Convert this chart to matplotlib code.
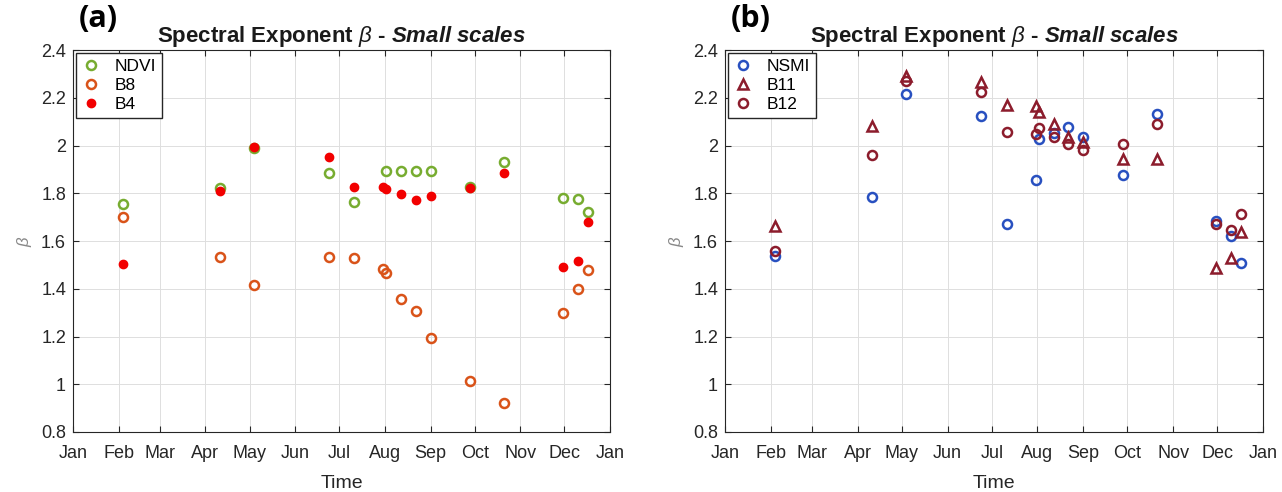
import numpy as np
import pandas as pd
import matplotlib.pyplot as plt
import matplotlib.dates as mdates
from matplotlib.ticker import FormatStrFormatter

plt.rcParams['font.family'] = ['Liberation Sans', 'DejaVu Sans']
plt.rcParams['mathtext.fontset'] = 'custom'
plt.rcParams['mathtext.rm'] = 'Liberation Sans'
plt.rcParams['mathtext.it'] = 'Liberation Sans:italic'
plt.rcParams['mathtext.bf'] = 'Liberation Sans:bold'
plt.rcParams['mathtext.bfit'] = 'Liberation Sans:bold:italic'

# acquisition dates (same for both panels)
dates = pd.to_datetime(['2019-02-04', '2019-04-11', '2019-05-04', '2019-06-24', '2019-07-11',
                        '2019-07-31', '2019-08-02', '2019-08-12', '2019-08-22', '2019-09-01',
                        '2019-09-28', '2019-10-21', '2019-11-30', '2019-12-10', '2019-12-17'])

# panel (a)
ndvi = [1.755, 1.82, 1.99, 1.885, 1.765, np.nan, 1.895, 1.893, 1.895, 1.895,
        1.825, 1.93, 1.78, 1.778, 1.722]
b8 = [1.70, 1.535, 1.415, 1.535, 1.528, 1.483, 1.467, 1.358, 1.305, 1.195,
      1.012, 0.923, 1.298, 1.40, 1.477]
b4 = [1.505, 1.81, 1.993, 1.952, 1.825, 1.828, 1.818, 1.797, 1.772, 1.789,
      1.823, 1.886, 1.493, 1.515, 1.678]

# panel (b)
nsmi = [1.538, 1.783, 2.215, 2.125, 1.67, 1.855, 2.027, 2.052, 2.076, 2.034,
        1.876, 2.131, 1.685, 1.623, 1.506]
b11 = [1.662, 2.08, 2.29, 2.268, 2.168, 2.166, 2.141, 2.092, 2.034, 2.014,
       1.945, 1.945, 1.487, 1.528, 1.637]
b12 = [1.56, 1.96, 2.27, 2.225, 2.058, 2.048, 2.072, 2.035, 2.007, 1.983,
       2.007, 2.09, 1.672, 1.648, 1.711]

title = r'Spectral Exponent $\beta$ - $\mathbfit{Small\ scales}$'
txt = '#262626'

fig = plt.figure(figsize=(12.82, 4.92), dpi=100)
ax1 = fig.add_axes([73 / 1282, 60 / 492, 537 / 1282, 382 / 492])
ax2 = fig.add_axes([725 / 1282, 60 / 492, 538 / 1282, 382 / 492])

# left
ax1.plot(dates, ndvi, 'o', ms=6.5, mfc='none', mec='#77AC30', mew=1.8, label='NDVI')
ax1.plot(dates, b8, 'o', ms=6.5, mfc='none', mec='#D95319', mew=1.8, label='B8')
ax1.plot(dates, b4, 'o', ms=6, color='#F20000', label='B4')

# right
ax2.plot(dates, nsmi, 'o', ms=6.5, mfc='none', mec='#2850C0', mew=1.8, label='NSMI')
ax2.plot(dates, b11, '^', ms=7.5, mfc='none', mec='#8C1C2C', mew=1.8, label='B11')
ax2.plot(dates, b12, 'o', ms=6.5, mfc='none', mec='#8C1C2C', mew=1.8, label='B12')

for ax, tag in [(ax1, '(a)'), (ax2, '(b)')]:
    ax.set_xlim(pd.Timestamp('2019-01-01'), pd.Timestamp('2020-01-01'))
    ax.set_ylim(0.8, 2.4)
    ax.set_yticks(np.arange(0.8, 2.41, 0.2))
    ax.yaxis.set_major_formatter(FormatStrFormatter('%g'))
    ax.xaxis.set_major_locator(mdates.MonthLocator())
    ax.xaxis.set_major_formatter(mdates.DateFormatter('%b'))
    ax.tick_params(direction='in', top=True, right=True, length=4, width=0.8,
                   labelsize=13, colors=txt, pad=5)
    ax.tick_params(axis='x', pad=9)
    ax.grid(True, color='#dedede', lw=0.7)
    ax.set_axisbelow(True)
    for s in ax.spines.values():
        s.set_color(txt)
        s.set_linewidth(0.8)
    ax.set_title(title, fontsize=16, fontweight='bold', color='#1a1a1a', pad=6)
    ax.set_xlabel('Time', fontsize=14, color=txt, labelpad=10)
    ax.set_ylabel(r'$\beta$', fontsize=12, color='#888888', labelpad=5)
    ax.legend(loc='upper left', fontsize=12.5, frameon=True, fancybox=False,
              edgecolor=txt, framealpha=1, borderaxespad=0.15, borderpad=0.35,
              handlelength=1.1, handletextpad=0.8, labelspacing=0.22)
    pos = ax.get_position()
    fig.text(pos.x0 + 6 / 1282, 1 - 19 / 492, tag, fontsize=22, fontweight='bold',
             family='Open Sans', va='center', ha='left')

fig.savefig('out.png', dpi=100)
